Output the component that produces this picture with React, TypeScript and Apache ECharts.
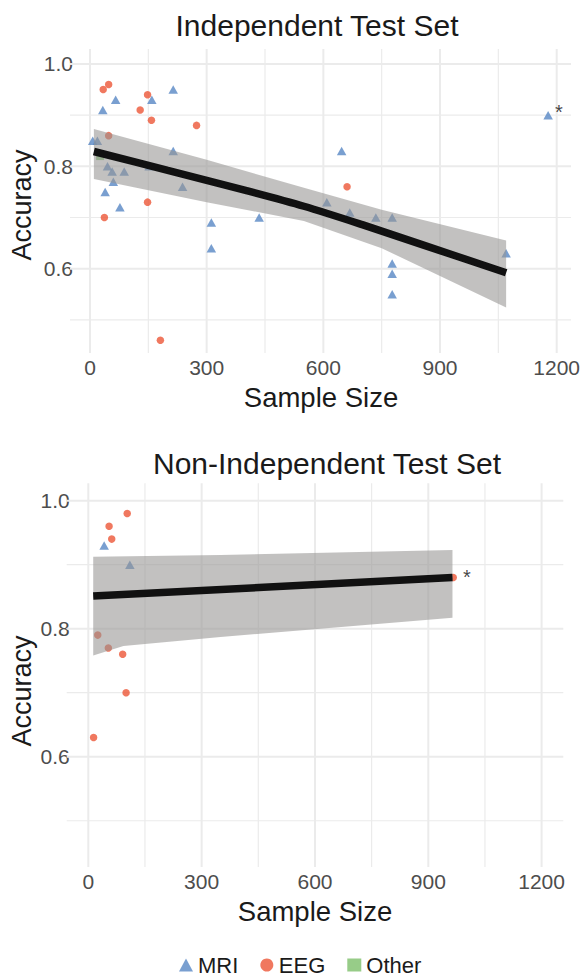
import React, { useEffect, useRef } from "react";
import * as echarts from "echarts";

// ---------- data ----------
const X_TICKS = [0, 300, 600, 900, 1200];
const X_MINOR = [150, 450, 750, 1050];
const Y_TICKS = [0.6, 0.8, 1.0];
const Y_MINOR = [0.5, 0.7, 0.9];

// Independent test set
const MRI_TOP: number[][] = [
  [7, 0.85], [19, 0.85], [33, 0.91], [66, 0.93], [159, 0.93], [214, 0.95], [214, 0.83],
  [45, 0.80], [57, 0.79], [88, 0.79], [60, 0.77], [39, 0.75], [77, 0.72], [238, 0.76],
  [152, 0.80], [312, 0.69], [312, 0.64], [435, 0.70], [647, 0.83], [609, 0.73], [668, 0.71],
  [735, 0.70], [777, 0.70], [777, 0.61], [777, 0.59], [777, 0.55], [1070, 0.63],
];
const MRI_TOP_STARRED: number[] = [1178, 0.90];
const EEG_TOP: number[][] = [
  [34, 0.95], [48, 0.96], [148, 0.94], [129, 0.91], [158, 0.89], [274, 0.88], [48, 0.86],
  [148, 0.73], [37, 0.70], [181, 0.46], [661, 0.76],
];
const OTHER_TOP: number[][] = [[26, 0.82]];
const FIT_TOP: number[][] = [
  [10, 0.829], [200, 0.792], [400, 0.753], [550, 0.722], [700, 0.686], [850, 0.648], [1070, 0.592],
];
const BAND_TOP_UPPER: number[][] = [[10, 0.873], [300, 0.813], [550, 0.758], [750, 0.715], [1070, 0.655]];
const BAND_TOP_LOWER: number[][] = [[10, 0.775], [300, 0.730], [550, 0.693], [750, 0.640], [1070, 0.524]];

// Non-independent test set
const MRI_BOTTOM: number[][] = [[42, 0.93], [110, 0.90]];
const EEG_BOTTOM: number[][] = [
  [103, 0.98], [55, 0.96], [62, 0.94], [25, 0.79], [53, 0.77], [91, 0.76], [100, 0.70], [14, 0.63],
];
const EEG_BOTTOM_STARRED: number[] = [966, 0.88];
const FIT_BOTTOM: number[][] = [[13, 0.851], [964, 0.880]];
const BAND_BOTTOM_UPPER: number[][] = [[13, 0.9125], [350, 0.915], [964, 0.923]];
const BAND_BOTTOM_LOWER: number[][] = [[13, 0.758], [93, 0.773], [350, 0.787], [964, 0.817]];

// ---------- styles ----------
const FONT = '"Liberation Sans", Arial, Helvetica, sans-serif';
const C_MRI = "#5787c4";
const C_EEG = "#ec5637";
const C_OTHER = "#7dbf6a";
const GRID_COLOR = "#ebebeb";

const PANELS = [
  { left: 70, right: 14, top: 49, height: 304, xMin: -51.4, xMax: 1236.8, yMin: 0.4352, yMax: 1.0293 },
  { left: 66.7, right: 21.7, top: 483.3, height: 383.7, xMin: -57.2, xMax: 1257.4, yMin: 0.4277, yMax: 1.0272 },
];

export default function App() {
  const ref = useRef<HTMLDivElement>(null);

  useEffect(() => {
    if (!ref.current) return;
    const chart = echarts.init(ref.current, undefined, { renderer: "svg" });

    const gridLineSeries = (idx: number) => {
      const p = PANELS[idx];
      const vData = [
        ...X_TICKS.map((v) => [v, p.yMin, 1]),
        ...X_MINOR.map((v) => [v, p.yMin, 0]),
      ];
      const hData = [
        ...Y_TICKS.map((v) => [p.xMin, v, 1]),
        ...Y_MINOR.map((v) => [p.xMin, v, 0]),
      ];
      return [
        {
          type: "custom",
          name: "vgrid" + idx,
          xAxisIndex: idx,
          yAxisIndex: idx,
          z: 1,
          silent: true,
          data: vData,
          renderItem: (params: any, api: any) => {
            const cs = params.coordSys;
            const x = api.coord([api.value(0), api.value(1)])[0];
            const major = api.value(2) === 1;
            return {
              type: "line",
              shape: { x1: x, y1: cs.y, x2: x, y2: cs.y + cs.height },
              style: { stroke: GRID_COLOR, lineWidth: major ? 2 : 1.2 },
            };
          },
        },
        {
          type: "custom",
          name: "hgrid" + idx,
          xAxisIndex: idx,
          yAxisIndex: idx,
          z: 1,
          silent: true,
          data: hData,
          renderItem: (params: any, api: any) => {
            const cs = params.coordSys;
            const y = api.coord([api.value(0), api.value(1)])[1];
            const major = api.value(2) === 1;
            return {
              type: "line",
              shape: { x1: cs.x, y1: y, x2: cs.x + cs.width, y2: y },
              style: { stroke: GRID_COLOR, lineWidth: major ? 2 : 1.2 },
            };
          },
        },
      ];
    };

    const bandSeries = (idx: number, upper: number[][], lower: number[][]) => ({
      type: "custom",
      name: "band" + idx,
      xAxisIndex: idx,
      yAxisIndex: idx,
      z: 3,
      silent: true,
      data: [[upper[0][0], upper[0][1]]],
      renderItem: (_params: any, api: any) => {
        const pts = [
          ...upper.map((p) => api.coord(p)),
          ...lower.slice().reverse().map((p) => api.coord(p)),
        ];
        return {
          type: "polygon",
          shape: { points: pts },
          style: { fill: "rgba(150,148,146,0.58)" },
        };
      },
    });

    const fitSeries = (idx: number, data: number[][]) => ({
      type: "line",
      name: "fit" + idx,
      xAxisIndex: idx,
      yAxisIndex: idx,
      z: 4,
      silent: true,
      showSymbol: false,
      symbol: "none",
      smooth: 0.3,
      data,
      lineStyle: { color: "#111111", width: 7.5, cap: "butt" },
    });

    const starLabel = (offset: number[], distance: number) => ({
      show: true,
      formatter: "*",
      position: "right",
      distance,
      offset,
      color: "#111111",
      fontSize: 20,
      fontFamily: FONT,
    });

    const mriSymbol = { symbol: "triangle", symbolSize: [9.5, 8.5] };
    const eegSymbol = { symbol: "circle", symbolSize: 7.5 };

    const option: any = {
      animation: false,
      backgroundColor: "#ffffff",
      textStyle: { fontFamily: FONT },
      grid: PANELS.map((p) => ({ left: p.left, right: p.right, top: p.top, height: p.height, containLabel: false })),
      xAxis: PANELS.map((p, i) => ({
        type: "value",
        gridIndex: i,
        min: p.xMin,
        max: p.xMax,
        axisLine: { show: false },
        axisTick: { show: false },
        splitLine: { show: false },
        axisLabel: {
          customValues: X_TICKS,
          formatter: (v: number) => String(Math.round(v)),
          color: "#4d4d4d",
          fontSize: 21,
          fontFamily: FONT,
          margin: 4,
        },
      })),
      yAxis: PANELS.map((p, i) => ({
        type: "value",
        gridIndex: i,
        min: p.yMin,
        max: p.yMax,
        axisLine: { show: false },
        axisTick: { show: false },
        splitLine: { show: false },
        axisLabel: {
          customValues: Y_TICKS,
          formatter: (v: number) => v.toFixed(1),
          color: "#4d4d4d",
          fontSize: 21,
          fontFamily: FONT,
          margin: -3,
        },
      })),
      legend: {
        top: 949,
        left: 174,
        selectedMode: false,
        itemGap: 22,
        itemWidth: 14,
        itemHeight: 13,
        textStyle: { fontSize: 22, color: "#1a1a1a", fontFamily: FONT },
        data: [
          { name: "MRI", icon: "triangle" },
          { name: "EEG", icon: "circle" },
          { name: "Other", icon: "rect" },
        ],
      },
      graphic: [
        { type: "text", x: 317, y: 25, style: { text: "Independent Test Set", font: `30px ${FONT}`, fill: "#1a1a1a", align: "center", verticalAlign: "middle" } },
        { type: "text", x: 321, y: 397, style: { text: "Sample Size", font: `27.5px ${FONT}`, fill: "#1a1a1a", align: "center", verticalAlign: "middle" } },
        { type: "text", x: 22, y: 205, rotation: Math.PI / 2, style: { text: "Accuracy", font: `27px ${FONT}`, fill: "#1a1a1a", align: "center", verticalAlign: "middle" } },
        { type: "text", x: 327, y: 463, style: { text: "Non-Independent Test Set", font: `30px ${FONT}`, fill: "#1a1a1a", align: "center", verticalAlign: "middle" } },
        { type: "text", x: 315, y: 911, style: { text: "Sample Size", font: `27.5px ${FONT}`, fill: "#1a1a1a", align: "center", verticalAlign: "middle" } },
        { type: "text", x: 22, y: 691, rotation: Math.PI / 2, style: { text: "Accuracy", font: `27px ${FONT}`, fill: "#1a1a1a", align: "center", verticalAlign: "middle" } },
      ],
      series: [
        ...gridLineSeries(0),
        ...gridLineSeries(1),
        {
          type: "scatter", name: "MRI", xAxisIndex: 0, yAxisIndex: 0, z: 2, ...mriSymbol,
          itemStyle: { color: C_MRI },
          data: [...MRI_TOP, { value: MRI_TOP_STARRED, label: starLabel([2, -3], 0) }],
        },
        {
          type: "scatter", name: "EEG", xAxisIndex: 0, yAxisIndex: 0, z: 2, ...eegSymbol,
          itemStyle: { color: C_EEG }, data: EEG_TOP,
        },
        {
          type: "scatter", name: "Other", xAxisIndex: 0, yAxisIndex: 0, z: 2, symbol: "rect", symbolSize: 8,
          itemStyle: { color: C_OTHER }, data: OTHER_TOP,
        },
        bandSeries(0, BAND_TOP_UPPER, BAND_TOP_LOWER),
        fitSeries(0, FIT_TOP),
        {
          type: "scatter", name: "MRI", xAxisIndex: 1, yAxisIndex: 1, z: 2, ...mriSymbol,
          itemStyle: { color: C_MRI }, data: MRI_BOTTOM,
        },
        {
          type: "scatter", name: "EEG", xAxisIndex: 1, yAxisIndex: 1, z: 2, ...eegSymbol,
          itemStyle: { color: C_EEG },
          data: [...EEG_BOTTOM, { value: EEG_BOTTOM_STARRED, label: starLabel([0, -1], 6) }],
        },
        bandSeries(1, BAND_BOTTOM_UPPER, BAND_BOTTOM_LOWER),
        fitSeries(1, FIT_BOTTOM),
      ],
    };

    chart.setOption(option);
    return () => chart.dispose();
  }, []);

  return (
    <div
      ref={ref}
      style={{ position: "absolute", left: 0, top: 0, width: 585, height: 978, background: "#fff" }}
    />
  );
}
